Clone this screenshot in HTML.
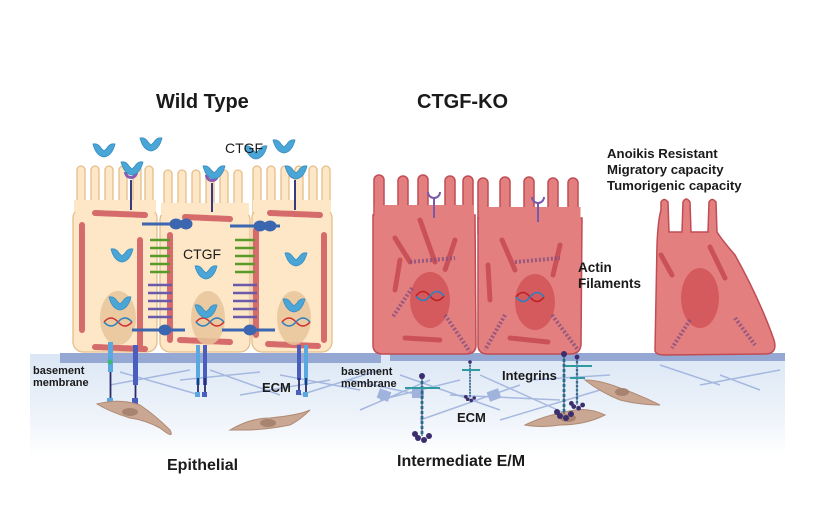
<!DOCTYPE html>
<html><head><meta charset="utf-8"><style>
html,body{margin:0;padding:0;background:#fff}
svg{display:block}
text{font-family:"Liberation Sans",Arial,sans-serif;fill:#1a1a1a}
.b{font-weight:bold}
</style></head><body>
<svg width="828" height="519" viewBox="0 0 828 519" xmlns="http://www.w3.org/2000/svg">
<defs>
<linearGradient id="bg" x1="0" y1="0" x2="0" y2="1">
<stop offset="0" stop-color="#dbe7f5"/><stop offset="0.6" stop-color="#eef3fa"/><stop offset="1" stop-color="#ffffff"/>
</linearGradient>
<g id="ctgf"><path d="M-11,-6 Q-6,-7 -3,-2 L0,1 L3,-2 Q6,-7 11,-6 Q8,6 0,7 Q-8,6 -11,-6 Z" fill="#4aa6d6" stroke="#3a8ec0" stroke-width="0.8"/></g>
<g id="villiW">
<rect x="0" y="0" width="8" height="60" rx="4" fill="#fde7c6" stroke="#e5be8a" stroke-width="1.3"/>
</g>
<g id="villiK">
<rect x="0" y="0" width="10" height="60" rx="5" fill="#e3807f" stroke="#c04c55" stroke-width="1.5"/>
</g>
<g id="integ">
<line x1="0" y1="0" x2="0" y2="60" stroke="#2f9aa0" stroke-width="3" stroke-dasharray="3 2"/>
<line x1="0" y1="0" x2="0" y2="60" stroke="#3b2e6e" stroke-width="1" />
<circle cx="0" cy="0" r="3" fill="#3b2e6e"/>
<circle cx="-4" cy="62" r="3" fill="#3b2e6e"/><circle cx="2" cy="64" r="3" fill="#3b2e6e"/><circle cx="7" cy="60" r="3" fill="#3b2e6e"/><circle cx="-7" cy="58" r="3" fill="#3b2e6e"/>
</g>
</defs>

<rect x="30" y="354" width="755" height="102" fill="url(#bg)"/>
<g stroke="#9fb3dd" stroke-width="1.5" opacity="0.9">
<line x1="110" y1="385" x2="190" y2="370"/><line x1="120" y1="372" x2="200" y2="395"/><line x1="180" y1="380" x2="260" y2="372"/>
<line x1="210" y1="370" x2="280" y2="395"/><line x1="240" y1="395" x2="330" y2="380"/><line x1="280" y1="375" x2="360" y2="390"/>
<line x1="300" y1="395" x2="380" y2="370"/><line x1="350" y1="380" x2="420" y2="395"/>
<line x1="380" y1="400" x2="460" y2="380"/><line x1="400" y1="375" x2="500" y2="410"/><line x1="420" y1="420" x2="520" y2="385"/>
<line x1="450" y1="395" x2="560" y2="400"/><line x1="480" y1="375" x2="580" y2="420"/><line x1="500" y1="420" x2="600" y2="390"/>
<line x1="360" y1="410" x2="430" y2="380"/><line x1="530" y1="380" x2="610" y2="375"/>
<line x1="660" y1="365" x2="720" y2="385"/><line x1="700" y1="385" x2="780" y2="370"/><line x1="720" y1="375" x2="760" y2="390"/>
</g>
<g fill="#9fb3dd"><rect x="378" y="390" width="12" height="10" transform="rotate(20 384 395)"/><rect x="412" y="388" width="12" height="10"/><rect x="488" y="390" width="12" height="10" transform="rotate(-20 494 395)"/></g>

<rect x="60" y="353" width="321" height="10" fill="#94a8d3"/>
<rect x="390" y="353" width="395" height="8" fill="#94a8d3"/>

<g>
<use href="#villiW" x="77" y="166"/><use href="#villiW" x="91" y="166"/><use href="#villiW" x="105" y="166"/><use href="#villiW" x="119" y="166"/><use href="#villiW" x="133" y="166"/><use href="#villiW" x="145" y="166"/>
<use href="#villiW" x="164" y="170"/><use href="#villiW" x="178" y="170"/><use href="#villiW" x="192" y="170"/><use href="#villiW" x="206" y="170"/><use href="#villiW" x="220" y="170"/><use href="#villiW" x="234" y="170"/>
<use href="#villiW" x="253" y="166"/><use href="#villiW" x="267" y="166"/><use href="#villiW" x="281" y="166"/><use href="#villiW" x="295" y="166"/><use href="#villiW" x="309" y="166"/><use href="#villiW" x="322" y="166"/>
<rect x="73" y="208" width="84" height="144" rx="10" fill="#fde7c6" stroke="#e5be8a" stroke-width="1.3"/>
<rect x="160" y="210" width="90" height="142" rx="10" fill="#fde7c6" stroke="#e5be8a" stroke-width="1.3"/>
<rect x="252" y="208" width="80" height="144" rx="10" fill="#fde7c6" stroke="#e5be8a" stroke-width="1.3"/>
<rect x="74" y="200" width="82" height="12" fill="#fde7c6"/><rect x="161" y="203" width="88" height="12" fill="#fde7c6"/><rect x="253" y="200" width="78" height="12" fill="#fde7c6"/>
</g>
<g stroke="#d0565c" stroke-width="6" stroke-dasharray="3 1" stroke-linecap="round" opacity="0.85" fill="none">
<line x1="95" y1="213" x2="145" y2="215"/><line x1="185" y1="217" x2="230" y2="219"/><line x1="270" y1="213" x2="320" y2="215"/>
<line x1="82" y1="225" x2="82" y2="330"/><line x1="140" y1="240" x2="140" y2="345"/><line x1="170" y1="235" x2="170" y2="340"/><line x1="256" y1="230" x2="256" y2="335"/><line x1="324" y1="235" x2="324" y2="340"/>
<line x1="95" y1="347" x2="145" y2="349"/><line x1="180" y1="340" x2="230" y2="342"/><line x1="268" y1="344" x2="318" y2="346"/>
</g>
<ellipse cx="118" cy="318" rx="18" ry="27" fill="#e8c49a" opacity="0.85"/>
<ellipse cx="208" cy="318" rx="17" ry="27" fill="#e8c49a" opacity="0.85"/>
<ellipse cx="294" cy="318" rx="17" ry="27" fill="#e8c49a" opacity="0.85"/>
<g fill="none" stroke-width="1.5">
<path d="M104,322 q7,-8 14,0 t14,0" stroke="#d03030"/><path d="M104,322 q7,8 14,0 t14,0" stroke="#2a80c0"/>
<path d="M196,322 q7,-8 14,0 t14,0" stroke="#d03030"/><path d="M196,322 q7,8 14,0 t14,0" stroke="#2a80c0"/>
<path d="M282,322 q7,-8 14,0 t14,0" stroke="#d03030"/><path d="M282,322 q7,8 14,0 t14,0" stroke="#2a80c0"/>
</g>
<g stroke="#3c66b0" stroke-width="3" fill="#3c66b0">
<line x1="142" y1="224" x2="190" y2="224"/><ellipse cx="176" cy="224" rx="5" ry="4"/><ellipse cx="186" cy="224" rx="5" ry="4"/>
<line x1="230" y1="226" x2="280" y2="226"/><ellipse cx="260" cy="226" rx="5" ry="4"/><ellipse cx="270" cy="226" rx="5" ry="4"/>
<line x1="132" y1="330" x2="185" y2="330"/><ellipse cx="165" cy="330" rx="5" ry="4"/>
<line x1="222" y1="330" x2="275" y2="330"/><ellipse cx="250" cy="330" rx="5" ry="4"/>
</g>
<g fill="none" stroke-width="2.5">
<path d="M150,240 h20 M150,248 h20 M150,256 h20 M150,264 h20 M150,272 h20" stroke="#5a9a2a"/>
<path d="M148,285 h24 M148,293 h24 M148,301 h24 M148,309 h24 M148,317 h24" stroke="#6a5aaa"/>
<path d="M235,240 h20 M235,248 h20 M235,256 h20 M235,264 h20 M235,272 h20" stroke="#5a9a2a"/>
<path d="M233,285 h24 M233,293 h24 M233,301 h24 M233,309 h24 M233,317 h24" stroke="#6a5aaa"/>
</g>
<g stroke="#3a3a80" stroke-width="2" fill="none">
<line x1="131" y1="180" x2="131" y2="210"/><line x1="212" y1="183" x2="212" y2="212"/><line x1="295" y1="180" x2="295" y2="210"/>
</g>
<g fill="#8a5cb0"><path d="M124,172 a7,7 0 0 0 14,0 h-3 a4,4 0 0 1 -8,0z"/><path d="M205,175 a7,7 0 0 0 14,0 h-3 a4,4 0 0 1 -8,0z"/><path d="M288,172 a7,7 0 0 0 14,0 h-3 a4,4 0 0 1 -8,0z"/></g>
<use href="#ctgf" x="104" y="150"/><use href="#ctgf" x="151" y="144"/><use href="#ctgf" x="132" y="168"/>
<use href="#ctgf" x="256" y="152"/><use href="#ctgf" x="284" y="146"/><use href="#ctgf" x="214" y="172"/><use href="#ctgf" x="296" y="172"/>
<use href="#ctgf" x="122" y="255"/><use href="#ctgf" x="206" y="272"/><use href="#ctgf" x="296" y="259"/>
<use href="#ctgf" x="120" y="303"/><use href="#ctgf" x="206" y="311"/><use href="#ctgf" x="294" y="305"/>
<g stroke-width="1.8">
<g><rect x="108" y="342" width="5" height="30" fill="#5aa8e0"/><line x1="110.5" y1="372" x2="110.5" y2="398" stroke="#2a2a6a"/><rect x="107" y="398" width="6" height="6" fill="#5aa8e0"/><circle cx="110" cy="362" r="2.5" fill="#3cb878"/></g>
<g><rect x="133" y="345" width="5" height="40" fill="#4a5ec0"/><line x1="135.5" y1="385" x2="135.5" y2="398" stroke="#2a2a6a"/><rect x="132" y="398" width="6" height="6" fill="#4a5ec0"/></g>
<g><rect x="196" y="345" width="4" height="40" fill="#5aa8e0"/><line x1="198" y1="378" x2="198" y2="392" stroke="#2a2a6a"/><rect x="195" y="392" width="5" height="5" fill="#5aa8e0"/></g>
<g><rect x="203" y="345" width="4" height="40" fill="#4a5ec0"/><line x1="205" y1="378" x2="205" y2="392" stroke="#2a2a6a"/><rect x="202" y="392" width="5" height="5" fill="#4a5ec0"/></g>
<g><rect x="297" y="345" width="4" height="35" fill="#4a5ec0"/><line x1="299" y1="378" x2="299" y2="390" stroke="#2a2a6a"/><rect x="296" y="390" width="5" height="5" fill="#4a5ec0"/></g>
<g><rect x="304" y="345" width="4" height="40" fill="#5aa8e0"/><line x1="306" y1="378" x2="306" y2="392" stroke="#2a2a6a"/><rect x="303" y="392" width="5" height="5" fill="#5aa8e0"/></g>
</g>
<g fill="#c9a792" stroke="#b08a74" stroke-width="1">
<path d="M97,404 Q120,398 140,405 Q155,415 170,430 Q175,440 160,428 Q145,420 130,418 Q110,412 97,404z"/>
<path d="M230,430 Q250,418 270,418 Q300,415 310,410 Q300,420 290,425 Q265,430 245,430 Z"/>
<path d="M525,425 Q545,415 575,410 Q590,408 605,415 Q585,425 560,425 Q540,428 525,425z"/>
<path d="M585,380 Q600,380 620,388 Q640,395 660,405 Q640,405 620,400 Q600,392 585,380z"/>
</g>
<g fill="#a88470"><ellipse cx="130" cy="412" rx="8" ry="4"/><ellipse cx="268" cy="423" rx="8" ry="4"/><ellipse cx="568" cy="418" rx="8" ry="4"/><ellipse cx="622" cy="392" rx="7" ry="4"/></g>

<g>
<use href="#villiK" x="374" y="175"/><use href="#villiK" x="398" y="176"/><use href="#villiK" x="418" y="175"/><use href="#villiK" x="445" y="176"/><use href="#villiK" x="463" y="176"/>
<use href="#villiK" x="478" y="178"/><use href="#villiK" x="500" y="177"/><use href="#villiK" x="524" y="177"/><use href="#villiK" x="548" y="178"/><use href="#villiK" x="568" y="178"/>
<path d="M373,215 L475,215 L476,345 Q476,354 466,354 L383,354 Q373,354 373,345 Z" fill="#e3807f" stroke="#c04c55" stroke-width="1.5"/>
<path d="M478,218 L582,218 L581,345 Q580,354 570,354 L488,354 Q478,354 478,345 Z" fill="#e3807f" stroke="#c04c55" stroke-width="1.5"/>
<rect x="374.5" y="205" width="99.5" height="14" fill="#e3807f"/><rect x="479.5" y="207" width="101" height="14" fill="#e3807f"/>
<path d="M655,350 L657,245 Q658,220 661,210 L661,202 Q664,197 668,202 L669,232 L682,232 L683,202 Q686,196 690,202 L691,232 L708,232 L709,202 Q712,197 716,202 L717,232 Q722,240 735,255 Q760,300 774,340 Q778,354 765,354 L665,355 Q655,355 655,350Z" fill="#e3807f" stroke="#c04c55" stroke-width="1.5"/>
</g>
<ellipse cx="430" cy="300" rx="20" ry="28" fill="#d45a5e"/>
<ellipse cx="535" cy="302" rx="20" ry="28" fill="#d45a5e"/>
<ellipse cx="700" cy="298" rx="19" ry="30" fill="#d45a5e"/>
<g fill="none" stroke-width="1.6">
<path d="M416,296 q7,-9 14,0 t14,0" stroke="#c02020"/><path d="M416,296 q7,9 14,0 t14,0" stroke="#2a80c0"/>
<path d="M516,297 q7,-9 14,0 t14,0" stroke="#c02020"/><path d="M516,297 q7,9 14,0 t14,0" stroke="#2a80c0"/>
</g>
<g stroke="#c5464e" stroke-width="5" stroke-dasharray="3 1" stroke-linecap="round" opacity="0.8">
<line x1="395" y1="238" x2="410" y2="262"/><line x1="420" y1="220" x2="435" y2="262"/><line x1="400" y1="260" x2="395" y2="290"/><line x1="455" y1="240" x2="445" y2="270"/><line x1="405" y1="338" x2="440" y2="340"/>
<line x1="502" y1="240" x2="515" y2="270"/><line x1="488" y1="265" x2="490" y2="300"/><line x1="560" y1="245" x2="553" y2="275"/><line x1="510" y1="338" x2="548" y2="342"/>
<line x1="661" y1="255" x2="672" y2="275"/><line x1="710" y1="247" x2="725" y2="278"/>
</g>
<g stroke="#8a5080" stroke-width="4" stroke-dasharray="2 2" opacity="0.85">
<line x1="412" y1="288" x2="392" y2="318"/><line x1="445" y1="315" x2="470" y2="352"/><line x1="505" y1="315" x2="485" y2="350"/><line x1="552" y1="315" x2="578" y2="350"/>
<line x1="690" y1="320" x2="672" y2="348"/><line x1="735" y1="318" x2="755" y2="345"/><line x1="410" y1="262" x2="455" y2="258"/><line x1="515" y1="262" x2="560" y2="258"/>
</g>
<g stroke="#7a5aa8" stroke-width="2" fill="none">
<path d="M428,192 a6,6 0 0 0 12,0"/><line x1="434" y1="198" x2="434" y2="218"/>
<path d="M532,197 a6,6 0 0 0 12,0"/><line x1="538" y1="203" x2="538" y2="222"/>
</g>
<use href="#integ" x="422" y="376"/>
<use href="#integ" x="470" y="362" transform="translate(470 362) scale(0.6) translate(-470 -362)"/>
<use href="#integ" x="564" y="354"/>
<use href="#integ" x="577" y="357" transform="translate(577 357) scale(0.8) translate(-577 -357)"/>
<g stroke="#2f9aa0" stroke-width="2"><line x1="405" y1="388" x2="440" y2="388"/><line x1="462" y1="370" x2="480" y2="370"/><line x1="565" y1="366" x2="592" y2="366"/><line x1="570" y1="378" x2="585" y2="378"/></g>

<text x="156" y="108" class="b" font-size="20">Wild Type</text>
<text x="417" y="108" class="b" font-size="20">CTGF-KO</text>
<text x="225" y="153" font-size="14">CTGF</text>
<text x="183" y="259" font-size="14">CTGF</text>
<text x="607" y="158" class="b" font-size="13.2">Anoikis Resistant</text><text x="607" y="174" class="b" font-size="13.2">Migratory capacity</text><text x="607" y="190" class="b" font-size="13.2">Tumorigenic capacity</text>
<text x="578" y="272" class="b" font-size="13.5">Actin</text><text x="578" y="288" class="b" font-size="13.5">Filaments</text>
<text x="33" y="374" class="b" font-size="11" fill="#333">basement</text><text x="33" y="386" class="b" font-size="11">membrane</text>
<text x="341" y="375" class="b" font-size="11">basement</text><text x="341" y="387" class="b" font-size="11">membrane</text>
<text x="262" y="392" class="b" font-size="13" fill="#333">ECM</text>
<text x="457" y="422" class="b" font-size="13">ECM</text>
<text x="502" y="380" class="b" font-size="13">Integrins</text>
<text x="167" y="470" class="b" font-size="16">Epithelial</text>
<text x="397" y="466" class="b" font-size="16">Intermediate E/M</text>
</svg>
</body></html>
